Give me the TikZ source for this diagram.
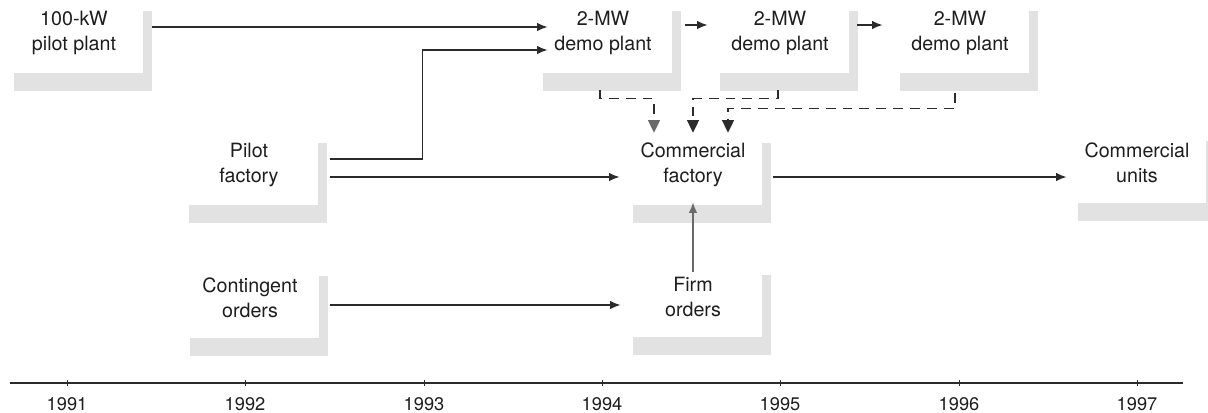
\documentclass[tikz,border=0pt]{standalone}
\usepackage{fontspec}
\setmainfont{TeX Gyre Heros}
\usepackage{xcolor}
\usepackage{tikz}
\usetikzlibrary{
  arrows.meta, positioning, shadows
}
\definecolor{C_LINE}{HTML}{2B2B2B}
\definecolor{C_TEXT}{HTML}{1E1E1E}
\definecolor{C_SHAD}{HTML}{E2E2E2}
\definecolor{C_SOFT}{HTML}{6A6A6A}
\tikzset{
  %% -- milestone box with L-shaped grey shadow --
  RM/box/.style={
    fill=white, minimum width=3.425cm, minimum height=1.975cm,
    inner sep=0pt, align=center, text=C_TEXT,
    font=\fontsize{14}{17.8}\selectfont,
    general shadow={fill=C_SHAD, shadow xshift=0.225cm, shadow yshift=-0.45cm}
  },
  %% -- solid flow arrow --
  RM/arr/.style={-{Latex[length=7.5pt,width=6pt]}, line width=1.1pt, draw=C_LINE},
  %% -- dashed feedback arrow --
  RM/dash/.style={-{Triangle[length=9pt,width=8.5pt]}, line width=1.1pt,
    draw=C_LINE, dash pattern=on 7pt off 5pt},
  %% -- time axis --
  RM/axis/.style={line width=1.3pt, draw=C_LINE},
  RM/year/.style={font=\fontsize{13}{15}\selectfont, text=C_TEXT},
}

\begin{document}
\begin{tikzpicture}[x=0.025cm, y=-0.025cm]
\useasboundingbox (0,0) rectangle (1208,413);

%% ── Milestone boxes ────────────────────────────────────────────────────────
\node[RM/box] (ppl)    at (74,33)   {100-kW\\pilot plant};
\node[RM/box] (demoA)  at (603,33)  {2-MW\\demo plant};
\node[RM/box] (demoB)  at (780,33)  {2-MW\\demo plant};
\node[RM/box] (demoC)  at (960,33)  {2-MW\\demo plant};
\node[RM/box] (pfac)   at (249,165) {Pilot\\factory};
\node[RM/box] (cfac)   at (693,165) {Commercial\\factory};
\node[RM/box] (cunits) at (1137,163) {Commercial\\units};
\node[RM/box] (cont)   at (250,298) {Contingent\\orders};
\node[RM/box] (firm)   at (693,297) {Firm\\orders};

%% ── Solid flows ────────────────────────────────────────────────────────────
\draw[RM/arr] ([shift={(9.5,-6)}]ppl.east) -- ([shift={(13.5,-6)}]demoA.west);
\draw[RM/arr] ([shift={(12.5,-6)}]pfac.east) -- ++(92,0)
  |- ([shift={(13.5,17)}]demoA.west);
\draw[RM/arr] ([shift={(12.5,12)}]pfac.east) -- ([shift={(-4.5,12)}]cfac.west);
\draw[RM/arr] ([shift={(11.5,12)}]cfac.east) -- ([shift={(-1.5,14)}]cunits.west);
\draw[RM/arr] ([shift={(11.5,7)}]cont.east) -- ([shift={(-3.5,8)}]firm.west);
\draw[RM/arr] ([shift={(13.5,-8)}]demoA.east) -- ([shift={(-3.5,-8)}]demoB.west);
\draw[RM/arr] ([shift={(8.5,-8)}]demoB.east) -- ([shift={(-8.5,-8)}]demoC.west);
\draw[RM/arr, draw=C_SOFT] ([shift={(0,14.5)}]firm.north)
  -- ([shift={(0,-2.5)}]cfac.south);

%% ── Dashed feeds from the demo plants ──────────────────────────────────────
\draw[RM/dash, -{Triangle[length=9pt,width=8.5pt,color=C_SOFT]}]
  ([shift={(-3,17.5)}]demoA.south) -- ++(0,8) -| ([shift={(-39,7.5)}]cfac.north);
\draw[RM/dash] ([shift={(-2,17.5)}]demoB.south) -- ++(0,8)
  -| ([shift={(0,7.5)}]cfac.north);
\draw[RM/dash] ([shift={(-5,20)}]demoC.south) -- ++(0,15.5)
  -| ([shift={(35,7.5)}]cfac.north);

%% ── Time axis ──────────────────────────────────────────────────────────────
\coordinate (axL) at (10,383);
\coordinate (axR) at (1183,383);
\draw[RM/axis] (axL) -- (axR);
\foreach \yr/\xx in {1991/67, 1992/245, 1993/424, 1994/602,
                     1995/780, 1996/959, 1997/1137} {
  \draw[C_LINE, line width=0.7pt] (\xx,380) -- (\xx,386);
  \node[RM/year] (y\yr) at (\xx,404) {\yr};
}

\end{tikzpicture}
\end{document}
